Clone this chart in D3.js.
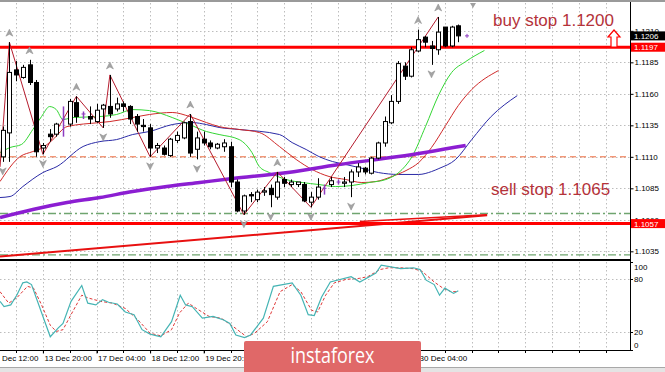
<!DOCTYPE html>
<html>
<head>
<meta charset="utf-8">
<script src="https://cdn.jsdelivr.net/npm/d3@7"></script>
<style>
  body { margin: 0; background: #fff; }
  svg { display: block; font-family: "Liberation Sans", Arial, sans-serif; }
</style>
</head>
<body>
<svg id="chart"></svg>
<script>
// EURUSD H4 candles, bar 0 = first visible bar
const opens  = [1.1110,1.1129,1.1179,1.1173,1.1183,1.1169,1.1117,1.1128,1.1128,1.1140,1.1136,1.1153,1.1144,1.1142,1.1138,1.1148,1.1150,1.1148,1.1152,1.1150,1.1142,1.1135,1.1133,1.1117,1.1117,1.1111,1.1123,1.1125,1.1138,1.1116,1.1124,1.1121,1.1117,1.1118,1.1118,1.1090,1.1067,1.1080,1.1076,1.1082,1.1085,1.1078,1.1092,1.1088,1.1088,1.1088,1.1074,1.1078,1.1085,1.1088,1.1090,1.1089,1.1090,1.1098,1.1101,1.1097,1.1109,1.1121,1.1137,1.1154,1.1182,1.1174,1.1194,1.1205,1.1198,1.1195,1.1213,1.1198,1.1214];
const highs  = [1.1134,1.1201,1.1186,1.1183,1.1187,1.1171,1.1121,1.1132,1.1137,1.1150,1.1156,1.1158,1.1146,1.1150,1.1152,1.1152,1.1175,1.1157,1.1154,1.1151,1.1144,1.1140,1.1136,1.1121,1.1119,1.1125,1.1130,1.1138,1.1144,1.1130,1.1130,1.1123,1.1121,1.1124,1.1122,1.1092,1.1080,1.1082,1.1084,1.1086,1.1088,1.1098,1.1094,1.1092,1.1090,1.1090,1.1082,1.1093,1.1088,1.1094,1.1092,1.1094,1.1100,1.1105,1.1102,1.1110,1.1122,1.1142,1.1159,1.1186,1.1185,1.1197,1.1211,1.1206,1.1202,1.1221,1.1213,1.1214,1.1215];
const lows   = [1.1106,1.1106,1.1170,1.1172,1.1167,1.1110,1.1112,1.1122,1.1126,1.1126,1.1134,1.1137,1.1140,1.1136,1.1137,1.1133,1.1141,1.1146,1.1146,1.1136,1.1130,1.1130,1.1110,1.1113,1.1111,1.1110,1.1121,1.1124,1.1110,1.1108,1.1119,1.1116,1.1116,1.1114,1.1086,1.1066,1.1064,1.1074,1.1074,1.1079,1.1070,1.1076,1.1086,1.1086,1.1086,1.1074,1.1070,1.1076,1.1080,1.1086,1.1088,1.1086,1.1078,1.1094,1.1096,1.1096,1.1108,1.1118,1.1136,1.1152,1.1171,1.1173,1.1193,1.1197,1.1183,1.1191,1.1197,1.1197,1.1201];
const closes = [1.1131,1.1177,1.1175,1.1181,1.1169,1.1114,1.1119,1.1126,1.1136,1.1140,1.1154,1.1142,1.1144,1.1140,1.1147,1.1151,1.1144,1.1152,1.1150,1.1140,1.1136,1.1134,1.1117,1.1119,1.1112,1.1124,1.1127,1.1137,1.1113,1.1125,1.1121,1.1118,1.1120,1.1121,1.1090,1.1067,1.1079,1.1079,1.1082,1.1083,1.1080,1.1090,1.1089,1.1090,1.1090,1.1075,1.1078,1.1086,1.1085,1.1091,1.1090,1.1090,1.1098,1.1102,1.1098,1.1109,1.1121,1.1138,1.1154,1.1184,1.1174,1.1195,1.1203,1.1201,1.1196,1.1209,1.1198,1.1213,1.1206];

// Alligator lines (at these bars)
const lipsBars = [-0.4,1.1,2.8,4.5,5.8,7.0,8.0,9.0,10.5,14.5,17.0,19.4,21.9,25.3,27.9,30.4,32.3,35.3,37.2,38.3,39.8,42.3,44.7,47.2,49.7,52.1,54.7,57.2,59.6,61.1,63.1,65.1,67.0,69.1,71.9];
const lipsVals = [1.11134,1.11174,1.11198,1.11317,1.1142,1.11499,1.11475,1.11396,1.11412,1.1142,1.11436,1.11475,1.11467,1.11412,1.11356,1.11301,1.11277,1.11237,1.11134,1.11023,1.10975,1.1092,1.10896,1.1088,1.10864,1.10872,1.10896,1.1092,1.10999,1.11102,1.1134,1.11594,1.11769,1.11856,1.11944];
const teethBars = [-0.4,2.6,4.5,6.0,7.5,9.6,14.5,16.0,19.4,21.9,25.3,27.9,30.4,32.3,35.3,38.3,41.3,43.8,46.2,48.7,51.2,53.6,55.7,58.1,60.2,62.1,64.0,66.1,68.0,70.0,74.0];
const teethVals = [1.10904,1.11102,1.11142,1.11174,1.11237,1.1134,1.11372,1.1138,1.11412,1.11436,1.11452,1.1142,1.11372,1.1134,1.11317,1.11293,1.11182,1.11079,1.10999,1.10944,1.1092,1.10896,1.10904,1.10944,1.10991,1.11055,1.11174,1.11348,1.11507,1.11634,1.11785];
const jawBars = [-0.4,1.1,3.0,6.0,8.1,12.0,14.5,17.0,19.4,21.9,25.3,28.3,30.4,32.3,35.3,41.3,43.2,45.3,47.2,49.2,51.2,53.2,56.1,59.1,62.1,64.0,65.1,67.6,70.0,72.9,76.8];
const jawVals = [1.10777,1.10785,1.10864,1.10975,1.11023,1.11182,1.11221,1.11237,1.11277,1.11301,1.11356,1.11372,1.11356,1.11333,1.11317,1.11277,1.11213,1.11158,1.11102,1.11063,1.11039,1.11015,1.10975,1.1096,1.1096,1.10983,1.11007,1.11079,1.11237,1.1142,1.11586];

// thick violet moving average
const maBars = [-0.4,4.5,9.6,14.5,19.4,24.5,29.4,34.3,41.3,50.2,59.1,69.1];
const maVals = [1.10618,1.10682,1.10737,1.10777,1.10825,1.10864,1.10896,1.10928,1.10967,1.11039,1.11102,1.1119];

// zigzag turning points and fractals
const zzBars = [-0.4,1,6,11,15,16,22,28,36,41,46,65];
const zzVals = [1.1102,1.1201,1.1112,1.1158,1.1133,1.1175,1.1110,1.1144,1.1064,1.1098,1.1070,1.1221];
const fractalUp = [1,4,11,16,28,41,62,65];
const fractalDown = [0,6,15,22,29,36,40,46,52,64];

// drawn levels and trend lines
const redLevels = [1.1197, 1.1057];
const pivotLevel = 1.1110;
const greenLevels = [1.1065, 1.10322];
const trendBars = [-0.4, 72.3];
const trendVals = [1.10309, 1.10636];
const trend2Bars = [53.3, 72.3];
const trend2Vals = [1.10587, 1.10640];

// stochastic (main + signal)
const stochBars = [-0.4,0.2,1.2,2.1,3.0,3.6,4.3,6.1,7.1,8.3,9.0,10.2,11.8,12.7,13.9,14.9,15.8,17.1,18.3,19.6,20.8,22.0,23.6,25.2,26.5,27.3,28.3,29.8,31.4,33.0,33.9,34.8,36.1,37.0,38.9,40.4,43.2,44.5,45.6,46.5,47.6,48.9,52.0,53.3,55.7,56.5,59.4,61.3,62.3,63.2,64.4,65.2,66.0,67.3,68.0];
const stochMain = [55,49,51,62,76,77,74,36,15,25,30,55,73,53,51,57,54,52,43,40,23,18,15,32,62,51,49,36,38,34,30,17,14,17,36,72,76,62,40,39,60,77,83,77,87,96,92,93,91,79,74,62,70,64,67];
const sigBars = [-0.4,0.9,2.1,3.7,4.6,5.8,7.1,8.0,9.0,10.2,11.8,12.7,14.6,16.4,18.3,20.2,22.0,23.6,25.2,26.4,27.7,28.9,30.8,32.6,34.5,36.4,37.6,39.5,41.4,43.2,44.5,46.1,47.0,48.2,49.5,51.3,53.2,54.5,56.3,57.6,59.4,61.3,62.6,64.4,65.7,66.9,67.9];
const sigVals = [66,53,59,72,70,51,28,21,23,40,62,59,55,53,47,34,19,16,23,42,53,47,38,36,26,15,19,32,66,74,66,45,43,62,76,80,81,83,91,93,93,92,89,77,70,66,66];

// axis ticks
const priceTicks = [1.1210,1.1185,1.1160,1.1135,1.1110,1.1085,1.1060,1.1035];
const oscTicks = [100,80,20,0];
const dateBars = [-2,6,14,22,30,38,46,54,62];
const dateLabels = ['12 Dec 12:00','13 Dec 20:00','17 Dec 04:00','18 Dec 12:00','19 Dec 20:00','23 Dec 04:00','24 Dec 12:00','26 Dec 20:00','30 Dec 04:00'];
const priceBoxes = [
  { v: 1.1206, fill: '#000' },
  { v: 1.1197, fill: '#f00' },
  { v: 1.1057, fill: '#f00' }
];

const width = 665;
const height = 372;
const plotRight = 630;
const mainTop = 3, mainBottom = 259;
const oscTop = 261.6, oscBottom = 350;

const svg = d3.select('#chart').attr('width', width).attr('height', height);

// scales
const xScale = d3.scaleLinear().domain([0, 68]).range([2.7, 458.3]);
const yScale = d3.scaleLinear().domain([1.10289, 1.12321]).range([mainBottom, mainTop]);
const oscY = d3.scaleLinear().domain([0, 100]).range([oscBottom, oscTop]);

// clip paths for the two panes
const defs = svg.append('defs');
defs.append('clipPath').attr('id', 'clipMain').append('rect')
  .attr('x', 0).attr('y', mainTop).attr('width', plotRight).attr('height', mainBottom - mainTop);
defs.append('clipPath').attr('id', 'clipOsc').append('rect')
  .attr('x', 0).attr('y', 261).attr('width', plotRight).attr('height', oscBottom - 261);

// window top edge and bottom strip
svg.append('rect').attr('x', 0).attr('y', 0).attr('width', width).attr('height', 2).attr('fill', '#9a9a9a');
svg.append('rect').attr('x', 0).attr('y', 367).attr('width', width).attr('height', 5).attr('fill', '#e4e4e4');
svg.append('line').attr('x1', 0).attr('x2', width).attr('y1', 367.5).attr('y2', 367.5).attr('stroke', '#a8a8a8');

// grid
const gridBars = d3.range(2, 94, 4);
const grid = svg.append('g').attr('stroke', '#bdbdbd').attr('stroke-dasharray', '1.5,2.5');
gridBars.forEach(b => {
  grid.append('line').attr('x1', Math.round(xScale(b)) + 0.5).attr('x2', Math.round(xScale(b)) + 0.5)
    .attr('y1', mainTop).attr('y2', mainBottom);
  grid.append('line').attr('x1', Math.round(xScale(b)) + 0.5).attr('x2', Math.round(xScale(b)) + 0.5)
    .attr('y1', 262).attr('y2', oscBottom);
});
priceTicks.forEach(v => {
  grid.append('line').attr('x1', 0).attr('x2', plotRight)
    .attr('y1', Math.round(yScale(v)) + 0.5).attr('y2', Math.round(yScale(v)) + 0.5);
});
[80, 20].forEach(v => {
  grid.append('line').attr('x1', 0).attr('x2', plotRight)
    .attr('y1', Math.round(oscY(v)) + 0.5).attr('y2', Math.round(oscY(v)) + 0.5);
});

const main = svg.append('g').attr('clip-path', 'url(#clipMain)');
const pts = (bars, vals) => bars.map((b, i) => [b, vals[i]]);
const line = d3.line().x(d => xScale(d[0])).y(d => yScale(d[1]));
const smooth = d3.line().x(d => xScale(d[0])).y(d => yScale(d[1])).curve(d3.curveMonotoneX);

// horizontal levels
greenLevels.forEach(v => {
  main.append('line').attr('x1', 0).attr('x2', plotRight).attr('y1', yScale(v)).attr('y2', yScale(v))
    .attr('stroke', '#6fa56f').attr('stroke-width', 1.3).attr('stroke-dasharray', '8,3,2,3');
});
main.append('line').attr('x1', 0).attr('x2', plotRight)
  .attr('y1', yScale(pivotLevel)).attr('y2', yScale(pivotLevel))
  .attr('stroke', '#ee6a3c').attr('stroke-width', 1).attr('stroke-dasharray', '6,4');

// trend lines
main.append('path').datum(pts(trendBars, trendVals)).attr('d', line)
  .attr('fill', 'none').attr('stroke', '#e81010').attr('stroke-width', 2);
main.append('path').datum(pts(trend2Bars, trend2Vals)).attr('d', line)
  .attr('fill', 'none').attr('stroke', '#e81010').attr('stroke-width', 1.5);

redLevels.forEach(v => {
  main.append('line').attr('x1', 0).attr('x2', plotRight).attr('y1', yScale(v)).attr('y2', yScale(v))
    .attr('stroke', '#ff0000').attr('stroke-width', 3);
});

// alligator
main.append('path').datum(pts(jawBars, jawVals)).attr('d', smooth)
  .attr('fill', 'none').attr('stroke', '#2a2aa6').attr('stroke-width', 1);
main.append('path').datum(pts(teethBars, teethVals)).attr('d', smooth)
  .attr('fill', 'none').attr('stroke', '#d02a2a').attr('stroke-width', 1);
main.append('path').datum(pts(lipsBars, lipsVals)).attr('d', smooth)
  .attr('fill', 'none').attr('stroke', '#33d633').attr('stroke-width', 1);

// violet MA
main.append('path').datum(pts(maBars, maVals)).attr('d', smooth)
  .attr('fill', 'none').attr('stroke', '#8c1ed2').attr('stroke-width', 3.5);

// zigzag
main.append('path').datum(pts(zzBars, zzVals)).attr('d', line)
  .attr('fill', 'none').attr('stroke', '#b51c2e').attr('stroke-width', 1);

// candles
opens.forEach((o, i) => {
  const c = closes[i];
  const x = Math.round(xScale(i)) + 0.5;
  const doji = Math.abs(o - c) < 0.00005;
  const col = doji ? '#8e3cc0' : '#000';
  main.append('line').attr('x1', x).attr('x2', x)
    .attr('y1', yScale(highs[i])).attr('y2', yScale(lows[i]))
    .attr('stroke', col).attr('stroke-width', doji ? 1.5 : 1);
  if (doji) {
    main.append('line').attr('x1', x - 2).attr('x2', x + 2)
      .attr('y1', yScale(o)).attr('y2', yScale(o)).attr('stroke', col);
    return;
  }
  const top = yScale(Math.max(o, c));
  const bot = yScale(Math.min(o, c));
  main.append('rect')
    .attr('x', x - 2).attr('y', top).attr('width', 4).attr('height', Math.max(1, bot - top))
    .attr('fill', c > o ? '#fff' : '#000').attr('stroke', '#000').attr('stroke-width', 1);
});

// fractal arrows
fractalUp.forEach(i => {
  const x = xScale(i), y = yScale(highs[i]) - 9;
  main.append('path').attr('d', `M${x},${y - 4}L${x + 3.5},${y + 3}L${x},${y + 1}L${x - 3.5},${y + 3}Z`)
    .attr('fill', '#a4a4a4').attr('stroke', '#8c8c8c').attr('stroke-width', 0.5);
});
fractalDown.forEach(i => {
  const x = xScale(i), y = yScale(lows[i]) + 9;
  main.append('path').attr('d', `M${x},${y + 4}L${x + 3.5},${y - 3}L${x},${y - 1}L${x - 3.5},${y - 3}Z`)
    .attr('fill', '#a4a4a4').attr('stroke', '#8c8c8c').attr('stroke-width', 0.5);
});

// current price mark and chart shift marker
const cx = xScale(69.3), cy = yScale(closes[closes.length - 1]);
main.append('path').attr('d', `M${cx - 2},${cy}H${cx + 2}M${cx},${cy - 2}V${cy + 2}`)
  .attr('stroke', '#8e3cc0').attr('stroke-width', 1);
svg.append('path').attr('d', 'M470,3L476,3L473,8Z').attr('fill', '#a0a0a0');

// annotations
svg.append('text').attr('x', 493).attr('y', 26).attr('font-size', '17px')
  .attr('fill', '#b4323a').text('buy stop 1.1200');
svg.append('text').attr('x', 491).attr('y', 195).attr('font-size', '17px')
  .attr('fill', '#b4323a').text('sell stop 1.1065');
svg.append('path').attr('d', 'M614,30L620,37L617,37L617,47L611,47L611,37L608,37Z')
  .attr('fill', '#fff').attr('stroke', '#f00').attr('stroke-width', 1.2);

// oscillator pane
const osc = svg.append('g').attr('clip-path', 'url(#clipOsc)');
const oscLine = d3.line().x(d => xScale(d[0])).y(d => oscY(d[1]));
osc.append('path').datum(pts(sigBars, sigVals)).attr('d', oscLine)
  .attr('fill', 'none').attr('stroke', '#e03838').attr('stroke-width', 1).attr('stroke-dasharray', '3,2');
osc.append('path').datum(pts(stochBars, stochMain)).attr('d', oscLine)
  .attr('fill', 'none').attr('stroke', '#45b4b4').attr('stroke-width', 1.2);

// frames
svg.append('line').attr('x1', plotRight + 0.5).attr('x2', plotRight + 0.5).attr('y1', 2).attr('y2', 351)
  .attr('stroke', '#000');
svg.append('line').attr('x1', 0).attr('x2', plotRight).attr('y1', 350.5).attr('y2', 350.5).attr('stroke', '#000');
svg.append('rect').attr('x', 0).attr('y', 259).attr('width', plotRight).attr('height', 2).attr('fill', '#000');

// price axis
const yAxis = d3.axisRight(yScale).tickValues(priceTicks).tickFormat(d3.format('.4f'))
  .tickSize(3).tickPadding(1);
const ya = svg.append('g').attr('transform', `translate(${plotRight + 0.5},0)`).call(yAxis);
ya.select('.domain').remove();
ya.selectAll('text').attr('font-size', '8px').attr('font-family', '"Liberation Sans", Arial, sans-serif');

// price boxes on the axis
priceBoxes.forEach(b => {
  const y = yScale(b.v);
  svg.append('rect').attr('x', plotRight + 1).attr('y', y - 4.5).attr('width', width - plotRight - 1)
    .attr('height', 9).attr('fill', b.fill);
  svg.append('text').attr('x', plotRight + 4).attr('y', y + 3).attr('font-size', '8px')
    .attr('fill', '#fff').text(d3.format('.4f')(b.v));
});

// oscillator axis
oscTicks.forEach(v => {
  const y = Math.min(Math.max(oscY(v), 267), 344.5);
  svg.append('line').attr('x1', plotRight).attr('x2', plotRight + 3)
    .attr('y1', Math.round(oscY(v)) + 0.5).attr('y2', Math.round(oscY(v)) + 0.5).attr('stroke', '#000');
  svg.append('text').attr('x', plotRight + 4).attr('y', y + 3).attr('font-size', '8px').text(v);
});

// time axis
const xAxis = d3.axisBottom(xScale).tickValues(dateBars).tickFormat((d, i) => dateLabels[i])
  .tickSize(3).tickPadding(2);
const xa = svg.append('g').attr('transform', `translate(0,${oscBottom + 0.5})`).call(xAxis);
xa.select('.domain').remove();
xa.selectAll('text').attr('text-anchor', 'start').attr('dx', 1)
  .attr('font-size', '8px').attr('font-family', '"Liberation Sans", Arial, sans-serif');
gridBars.forEach(b => {
  svg.append('line').attr('x1', Math.round(xScale(b)) + 0.5).attr('x2', Math.round(xScale(b)) + 0.5)
    .attr('y1', 351).attr('y2', 353).attr('stroke', '#000');
});

// watermark
svg.append('rect').attr('x', 244).attr('y', 341).attr('width', 177).attr('height', 34).attr('rx', 2)
  .attr('fill', '#e06868');
svg.append('text').attr('x', 332.5).attr('y', 363).attr('text-anchor', 'middle')
  .attr('font-family', '"Open Sans", sans-serif').attr('font-size', '21px')
  .attr('textLength', 84).attr('lengthAdjust', 'spacingAndGlyphs')
  .attr('fill', '#fff').text('instaforex');
</script>
</body>
</html>
